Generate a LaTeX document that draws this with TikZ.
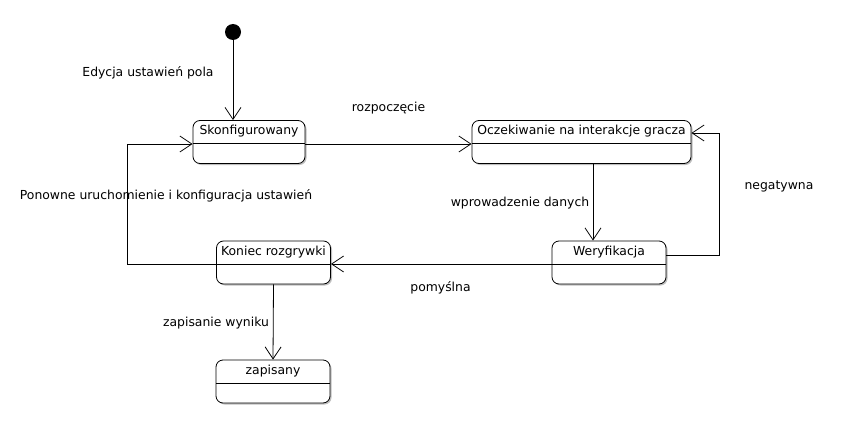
\documentclass[tikz,border=0pt]{standalone}
\usepackage{fontspec}
\setmainfont{DejaVu Sans}
\usetikzlibrary{arrows.meta,positioning,shadows}

\begin{document}
\begin{tikzpicture}[x=1pt,y=-1pt,
  state/.style={draw,line width=0.8pt,rounded corners=7pt,fill=white,
    drop shadow={shadow xshift=1.5pt,shadow yshift=-1.5pt,fill=black!25,opacity=1},
    minimum height=43pt,inner sep=0pt,text height=14pt,text depth=29pt,
    font=\fontsize{12.4}{14}\selectfont,
    path picture={\draw[line width=0.8pt] ([yshift=-23pt]path picture bounding box.north west) -- ([yshift=-23pt]path picture bounding box.north east);}},
  trans/.style={draw,line width=0.8pt,-{Straight Barb[length=12pt,width=16pt,line width=0.8pt]}},
  lbl/.style={font=\fontsize{12.4}{14}\selectfont}]
  \useasboundingbox (0,0) rectangle (843,428);
  % states
  \node[circle,fill=black,minimum size=16pt,inner sep=0pt] (start) at (233,32) {};
  \node[state,minimum width=112pt] (skonf) at (249,142) {Skonfigurowany};
  \node[state,minimum width=219pt] (oczek) at (581.5,142) {Oczekiwanie na interakcje gracza};
  \node[state,minimum width=114pt] (weryf) at (609,262.5) {Weryfikacja};
  \node[state,minimum width=114pt] (koniec) at (273.5,262.5) {Koniec rozgrywki};
  \node[state,minimum width=114pt] (zapis) at (273,381.5) {zapisany};
  % transitions
  \draw[trans] (start) -- (start |- skonf.north);
  \draw[trans] ([yshift=-2pt]skonf.east) -- ([yshift=-2pt]oczek.west);
  \draw[trans] ([xshift=11.5pt]oczek.south) -- ([xshift=11.5pt]oczek.south |- weryf.north);
  \draw[trans] ([yshift=7.5pt]weryf.east) -- ++(53,0) |- ([yshift=9pt]oczek.east);
  \draw[trans] ([yshift=-1.5pt]weryf.west) -- ([yshift=-1.5pt]koniec.east);
  \draw[trans] ([yshift=-1.5pt]koniec.west) -- ++(-89,0) |- ([yshift=-2pt]skonf.west);
  \draw[trans] (koniec.south) -- (zapis.north);
  % labels
  \node[lbl] (edycja) at (148,73) {Edycja ustawień pola};
  \node[lbl] (rozp) at (388.5,108) {rozpoczęcie};
  \node[lbl] (wprow) at (520,203) {wprowadzenie danych};
  \node[lbl] (negat) at (779,186) {negatywna};
  \node[lbl] (pomysl) at (440.5,288) {pomyślna};
  \node[lbl] (ponowne) at (166,196) {Ponowne uruchomienie i konfiguracja ustawień};
  \node[lbl] (zapisanie) at (216,323) {zapisanie wyniku};
\end{tikzpicture}
\end{document}
